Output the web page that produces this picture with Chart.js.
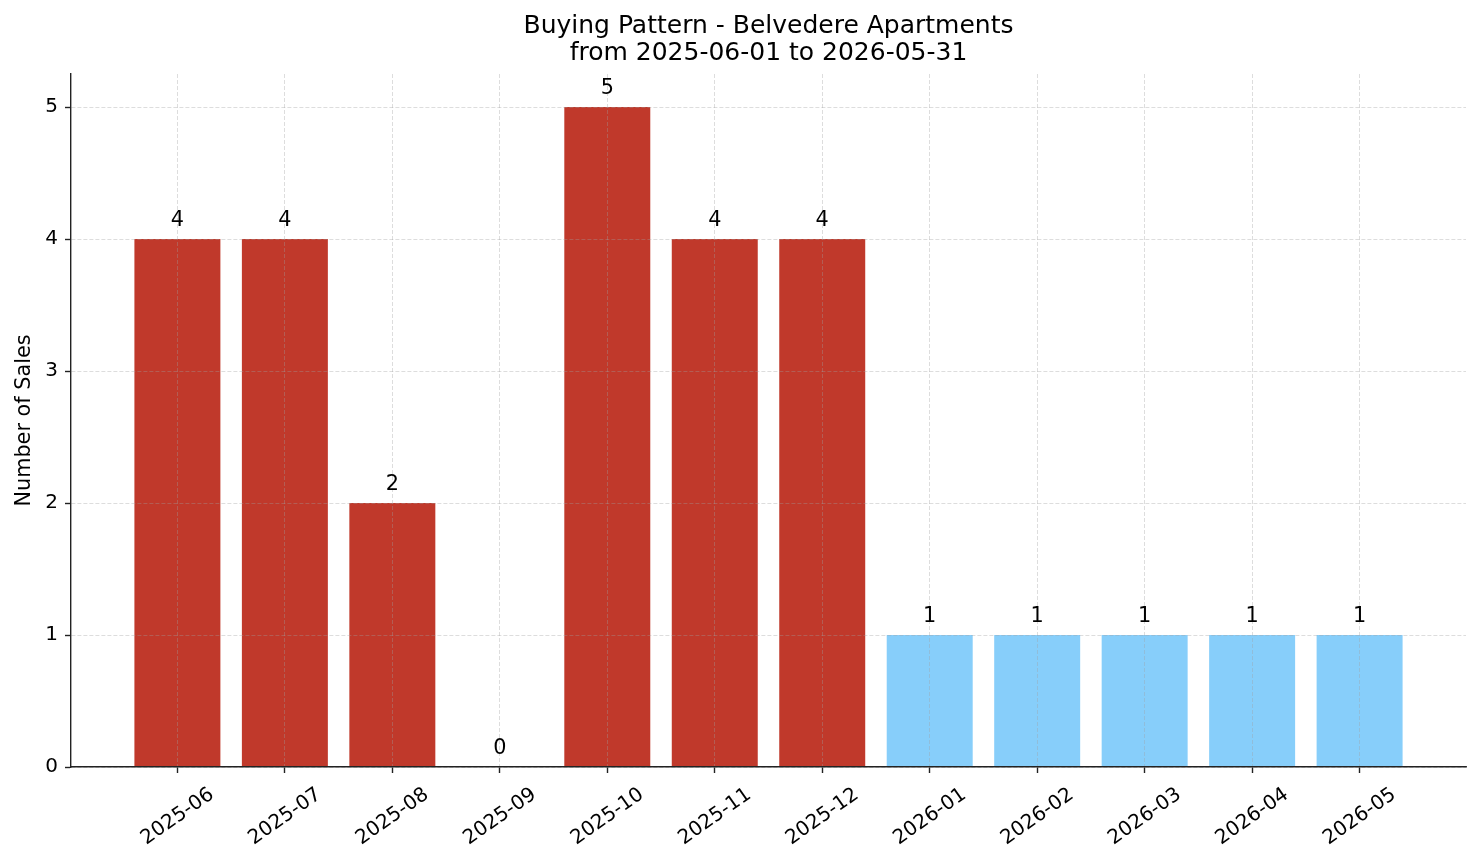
<!DOCTYPE html>
<html>
<head>
<meta charset="utf-8">
<script src="https://cdn.jsdelivr.net/npm/chart.js@4/dist/chart.umd.min.js"></script>
<style>
  html, body { margin: 0; padding: 0; background: #fff; }
  #wrap { width: 1481px; height: 863px; }
</style>
</head>
<body>
<div id="wrap"><canvas id="sales_chart" width="1481" height="863"></canvas></div>
<script>
// months shown on the x axis
const months = ['2025-06', '2025-07', '2025-08', '2025-09', '2025-10', '2025-11',
                '2025-12', '2026-01', '2026-02', '2026-03', '2026-04', '2026-05'];
// number of sales per month
const sales = [4, 4, 2, 0, 5, 4, 4, 1, 1, 1, 1, 1];
// first 7 months are in the past, the rest are upcoming
const upcoming = [false, false, false, false, false, false, false, true, true, true, true, true];
const yTicks = [0, 1, 2, 3, 4, 5];

const RED = '#c0392b';
const BLUE = '#87cefa';
const TICK_FONT = 20;
const FONT = 'DejaVu Sans';

Chart.defaults.font.family = FONT;
Chart.defaults.color = '#000';

// draws the rotated month labels centered under each tick (matplotlib style)
const monthLabels = {
    id: 'monthLabels',
    afterDraw(chart) {
        const ctx = chart.ctx;
        const xScale = chart.scales.x;
        const bottom = chart.chartArea.bottom;
        const angle = 35 * Math.PI / 180;
        const capH = TICK_FONT * 0.73;
        ctx.save();
        ctx.font = `${TICK_FONT}px "${FONT}"`;
        ctx.fillStyle = '#000';
        ctx.textAlign = 'center';
        ctx.textBaseline = 'alphabetic';
        months.forEach((m, i) => {
            const w = ctx.measureText(m).width;
            const h = w * Math.sin(angle) + capH * Math.cos(angle);
            const cx = xScale.getPixelForValue(i) - 1;
            const cy = bottom + 18 + h / 2;
            ctx.save();
            ctx.translate(cx, cy);
            ctx.rotate(-angle);
            ctx.fillText(m, 0, capH / 2);
            ctx.restore();
        });
        ctx.restore();
    }
};

// value labels above each bar
const valueLabels = {
    id: 'valueLabels',
    afterDraw(chart) {
        const ctx = chart.ctx;
        const meta = chart.getDatasetMeta(0);
        const fs = 20.8;
        ctx.save();
        ctx.font = `${fs}px "${FONT}"`;
        ctx.fillStyle = '#000';
        ctx.textAlign = 'center';
        ctx.textBaseline = 'alphabetic';
        meta.data.forEach((bar, i) => {
            ctx.fillText(String(sales[i]), bar.x, bar.y - 21 + fs * 0.73 / 2);
        });
        ctx.restore();
    }
};

const ctx = document.getElementById('sales_chart').getContext('2d');
const salesChart = new Chart(ctx, {
    type: 'bar',
    data: {
        datasets: [{
            label: 'Sales',
            data: months.map((_, i) => ({ x: i, y: sales[i] })),
            backgroundColor: upcoming.map(u => u ? BLUE : RED),
            borderWidth: 0,
            barPercentage: 0.8,
            categoryPercentage: 1.0
        }]
    },
    options: {
        responsive: false,
        devicePixelRatio: 1,
        animation: false,
        layout: { padding: { left: 0, right: 15, top: 0, bottom: 0 } },
        scales: {
            x: {
                type: 'linear',
                min: -0.99,
                max: 11.99,
                offset: false,
                afterBuildTicks: axis => { axis.ticks = months.map((_, i) => ({ value: i })); },
                afterFit: axis => { axis.height = 96; },
                ticks: { display: false },
                grid: {
                    offset: false,
                    color: 'rgba(160,160,160,0.45)',
                    lineWidth: 0.8,
                    tickLength: 6,
                    tickColor: '#222',
                    tickWidth: 1.4,
                    tickBorderDash: [],
                    z: 1
                },
                border: { color: '#222', width: 1.4, dash: [4, 2], z: 2 }
            },
            y: {
                min: 0,
                max: 5.25,
                afterBuildTicks: axis => { axis.ticks = yTicks.map(v => ({ value: v })); },
                afterFit: axis => { axis.width = 71; },
                ticks: { font: { size: TICK_FONT }, padding: 7, color: '#000' },
                grid: {
                    color: 'rgba(160,160,160,0.45)',
                    lineWidth: 0.8,
                    tickLength: 6,
                    tickColor: '#222',
                    tickWidth: 1.4,
                    tickBorderDash: [],
                    z: 1
                },
                border: { color: '#222', width: 1.4, dash: [4, 2], z: 2 },
                title: {
                    display: true,
                    text: 'Number of Sales',
                    font: { size: 20.8 },
                    color: '#000',
                    padding: { top: 12, bottom: 0 }
                }
            }
        },
        plugins: {
            legend: { display: false },
            tooltip: { enabled: false },
            title: {
                display: true,
                fullSize: false,
                text: ['Buying Pattern - Belvedere Apartments', 'from 2025-06-01 to 2026-05-31'],
                font: { size: 25, weight: 'normal', lineHeight: 1.08 },
                color: '#000',
                padding: { top: 13, bottom: 7 }
            }
        }
    },
    plugins: [monthLabels, valueLabels]
});
</script>
</body>
</html>
